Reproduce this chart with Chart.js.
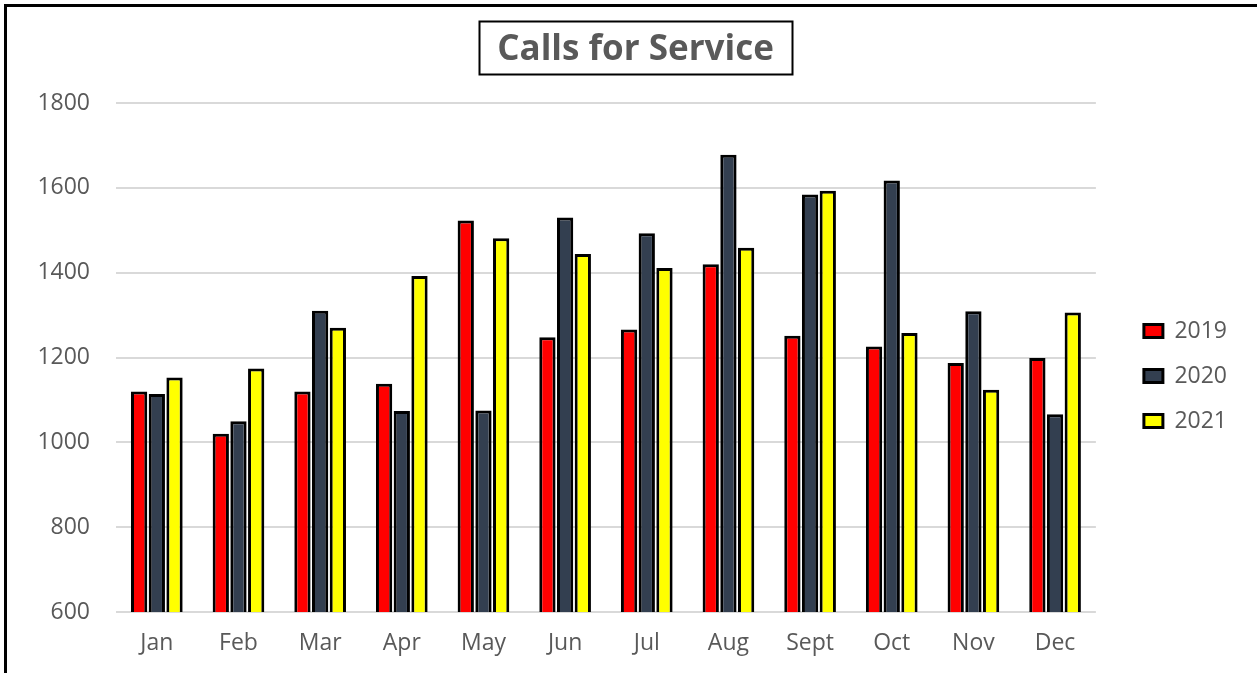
<!DOCTYPE html>
<html>
<head>
<meta charset="utf-8">
<script src="https://cdn.jsdelivr.net/npm/chart.js@4"></script>
<style>
  body { margin: 0; background: #fff; overflow: hidden; }
  .chart-box { position: absolute; left: 0; top: 0; width: 1257px; height: 673px; }
  .frame { position: absolute; left: 4px; top: 4px; width: 1400px; height: 800px; border: 3px solid #000; pointer-events: none; }
</style>
</head>
<body>
<div class="chart-box"><canvas id="callsChart"></canvas></div>
<div class="frame"></div>
<script>
const months = ['Jan', 'Feb', 'Mar', 'Apr', 'May', 'Jun', 'Jul', 'Aug', 'Sept', 'Oct', 'Nov', 'Dec'];
const calls2019 = [1120, 1020, 1120, 1138, 1523, 1248, 1266, 1420, 1251, 1226, 1187, 1199];
const calls2020 = [1114, 1050, 1310, 1074, 1075, 1530, 1493, 1678, 1584, 1617, 1309, 1066];
const calls2021 = [1153, 1174, 1270, 1392, 1481, 1444, 1411, 1459, 1593, 1258, 1124, 1306];
const yTicks = [600, 800, 1000, 1200, 1400, 1600, 1800];

const grey = '#595959';
const fontName = "'Open Sans', sans-serif";
const titleFont = 'bold 35px ' + fontName;

// draws the thin black box round the title text
const titleBox = {
    id: 'titleBox',
    afterDraw(chart) {
        const t = chart.titleBlock;
        const ctx = chart.ctx;
        ctx.save();
        ctx.font = titleFont;
        const w = ctx.measureText(t.options.text).width;
        const cx = (t.left + t.right) / 2;
        ctx.lineWidth = 2;
        ctx.strokeStyle = '#000';
        ctx.strokeRect(Math.round(cx - w / 2 - 18) + 0.5, 21.5, Math.round(w + 36), 53);
        ctx.restore();
    }
};

new Chart(document.getElementById('callsChart'), {
    type: 'bar',
    data: {
        labels: months,
        datasets: [{
            label: '2019',
            data: calls2019,
            backgroundColor: '#FF0000',
            borderColor: '#000',
            borderWidth: 3,
            borderSkipped: false
        }, {
            label: '2020',
            data: calls2020,
            backgroundColor: '#333F50',
            borderColor: '#000',
            borderWidth: 3,
            borderSkipped: false
        }, {
            label: '2021',
            data: calls2021,
            backgroundColor: '#FFFF00',
            borderColor: '#000',
            borderWidth: 3,
            borderSkipped: false
        }]
    },
    options: {
        responsive: true,
        maintainAspectRatio: false,
        animation: false,
        devicePixelRatio: 1,
        categoryPercentage: 0.65,
        barPercentage: 0.92,
        layout: {
            padding: { left: 34, right: 20, top: 0, bottom: 0 }
        },
        scales: {
            x: {
                grid: { display: false },
                border: { display: false },
                ticks: { color: grey, font: { family: fontName, size: 23 }, padding: 10 },
                afterFit(scale) { scale.height = 61; }
            },
            y: {
                min: 600,
                max: 1800,
                afterBuildTicks(scale) { scale.ticks = yTicks.map(v => ({ value: v })); },
                grid: { color: '#D9D9D9', lineWidth: 2, drawTicks: false },
                border: { display: false },
                ticks: {
                    color: grey,
                    font: { family: fontName, size: 23 },
                    padding: 26,
                    callback: v => String(v)
                },
                afterFit(scale) { scale.width = 82; }
            },
            // empty spacer so the legend sits away from the plot
            gap: {
                type: 'linear',
                position: 'right',
                grid: { display: false },
                border: { display: false },
                ticks: { display: false },
                afterFit(scale) { scale.width = 26; }
            }
        },
        plugins: {
            title: {
                display: true,
                text: 'Calls for Service',
                color: grey,
                font: { family: fontName, size: 35, weight: 'bold' },
                padding: { top: 29, bottom: 32 }
            },
            legend: {
                position: 'right',
                fullSize: false,
                title: { display: true, text: ' ', font: { size: 16, lineHeight: 1 }, padding: { top: 21, bottom: 0 } },
                labels: {
                    color: grey,
                    font: { family: fontName, size: 23 },
                    boxWidth: 19,
                    boxHeight: 13,
                    padding: 22
                }
            },
            tooltip: { enabled: false }
        }
    },
    plugins: [titleBox]
});
</script>
</body>
</html>
